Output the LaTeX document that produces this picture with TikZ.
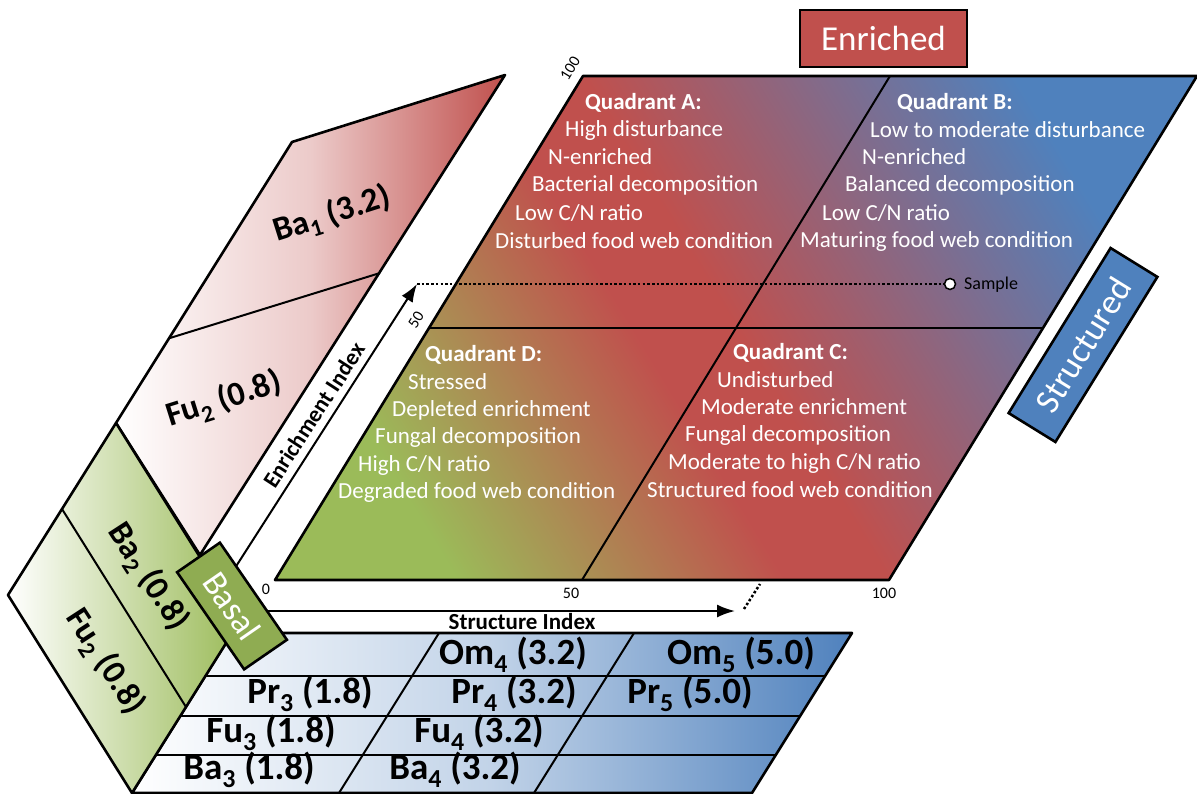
\documentclass[tikz,border=0pt]{standalone}
\usepackage{fontspec}
\setmainfont{Carlito}
\usetikzlibrary{arrows.meta}

\definecolor{enrichred}{HTML}{C0504D}
\definecolor{structblue}{HTML}{4F81BD}
\definecolor{basalgreen}{HTML}{9BBB59}

\pgfdeclareverticalshading{planeshade}{100bp}{color(0bp)=(basalgreen); color(25bp)=(basalgreen);
  color(44bp)=(enrichred); color(50bp)=(enrichred); color(75bp)=(structblue); color(100bp)=(structblue)}

\tikzset{
  panel/.style={draw=black, line width=2.6pt, line join=round},
  divider/.style={draw=black, line width=2pt},
  qhead/.style={anchor=west, text=white, inner sep=0pt, font=\fontsize{23}{27}\selectfont\bfseries},
  qline/.style={anchor=west, text=white, inner sep=0pt, font=\fontsize{23}{27}\selectfont},
  cell/.style={inner sep=0pt, font=\fontsize{37}{42}\selectfont\bfseries},
  sidecell/.style={inner sep=0pt, font=\fontsize{34}{40}\selectfont\bfseries},
  tick/.style={inner sep=0pt, font=\fontsize{16}{19}\selectfont},
  axisname/.style={inner sep=0pt, font=\fontsize{23}{27}\selectfont\bfseries},
  tagbox/.style={draw=black, line width=2.6pt, text=white, inner sep=0pt, font=\fontsize{35}{40}\selectfont},
  axisarrow/.style={line width=2pt, -{Latex[length=18pt,width=13pt]}},
  dotline/.style={line width=2.5pt, dash pattern=on 2.5pt off 2.2pt},
}

\begin{document}
\begin{tikzpicture}[x=1pt, y=-1pt]
\useasboundingbox (0,0) rectangle (1197,794);

% corners of the main plane
\coordinate (o)    at (275,580);
\coordinate (s100) at (889,580);
\coordinate (c100) at (1197,76);
\coordinate (e100) at (583,76);
\coordinate (s50b) at (582,580);
\coordinate (s50t) at (890,76);
\coordinate (e50l) at (429,328);
\coordinate (e50r) at (1043,328);

% bottom table (blue)
\coordinate (tbl) at (132,793);
\coordinate (tbr) at (752,793);
\coordinate (ttr) at (852,633);
\coordinate (ttl) at (232,633);
\shade[left color=white, right color=structblue, middle color=structblue!35!white]
  (tbl) -- (tbr) -- (ttr) -- (ttl) -- cycle;
\draw[divider] (205,676) -- (825,676);
\draw[divider] (180,716) -- (800,716);
\draw[divider] (156,755) -- (776,755);
\draw[divider] (439,633) -- (339,793);
\draw[divider] (634,633) -- (534,793);
\draw[panel] (tbl) -- (tbr) -- (ttr) -- (ttl) -- cycle;

% upper side panel (red)
\shade[left color=white, right color=enrichred, middle color=enrichred!30!white]
  (292,142) -- (505,75) -- (200,555) -- (116,423) -- cycle;
\draw[panel] (292,142) -- (505,75) -- (200,555) -- (116,423) -- cycle;
\draw[divider] (170,338) -- (380,273);

% lower side panel (green)
\shade[left color=white, right color=basalgreen, middle color=basalgreen!50!white]
  (116,423) -- (8,595) -- (132,793) -- (240,621) -- cycle;
\draw[panel] (116,423) -- (8,595) -- (132,793) -- (240,621) -- cycle;
\draw[divider] (62,509) -- (186,707);

% main plane
\begin{scope}[transform canvas={cm={6.14,0,3.08,5.04,(275pt,-580pt)}}]
  \shade[shading=planeshade, shading angle=-45] (0pt,0pt) rectangle (100pt,100pt);
\end{scope}
\draw[divider] (e50l) -- (e50r);
\draw[divider] (s50b) -- (s50t);
\draw[panel] (o) -- (s100) -- (c100) -- (e100) -- cycle;

% axes
\coordinate (si0)   at (262,611);
\coordinate (sitip) at (735,611);
\coordinate (sdot0) at (744,609);
\coordinate (sdot1) at (760,584);
\coordinate (ei0)   at (226,582);
\coordinate (eitip) at (417,284);
\draw[axisarrow] (si0) -- (sitip);
\draw[axisarrow] (ei0) -- (eitip);
\draw[dotline] (sdot0) -- (sdot1);
\node[circle, draw=black, fill=white, line width=1.5pt, minimum size=11pt, inner sep=0pt] (sample) at (950,284) {};
\draw[dotline] (eitip) -- (sample);
\node[anchor=west, inner sep=0pt, font=\fontsize{18}{21}\selectfont] (samplelbl) at (964,285) {Sample};

\node[axisname] (sindex) at (522,622) {Structure Index};
\node[axisname, rotate=57] (eindex) at (314,415) {Enrichment Index};

\node[tick] (t0)    at (266,589) {0};
\node[tick] (t50)   at (571,593) {50};
\node[tick] (t100)  at (884,593) {100};
\node[tick, rotate=58.6] (te50)  at (416,320) {50};
\node[tick, rotate=58.6] (te100) at (570,68)  {100};

% quadrant texts
\node[qhead] (qa)  at (585,103) {Quadrant A:};
\node[qline] (qa1) at (565,130) {High disturbance};
\node[qline] (qa2) at (548,157) {N-enriched};
\node[qline] (qa3) at (532,185) {Bacterial decomposition};
\node[qline] (qa4) at (515,213) {Low C/N ratio};
\node[qline] (qa5) at (495,241) {Disturbed food web condition};

\node[qhead] (qb)  at (897,103) {Quadrant B:};
\node[qline] (qb1) at (870,130) {Low to moderate disturbance};
\node[qline] (qb2) at (862,157) {N-enriched};
\node[qline] (qb3) at (845,185) {Balanced decomposition};
\node[qline] (qb4) at (822,213) {Low C/N ratio};
\node[qline] (qb5) at (800,241) {Maturing food web condition};

\node[qhead] (qd)  at (425,355) {Quadrant D:};
\node[qline] (qd1) at (408,382) {Stressed};
\node[qline] (qd2) at (392,410) {Depleted enrichment};
\node[qline] (qd3) at (375,437) {Fungal decomposition};
\node[qline] (qd4) at (358,465) {High C/N ratio};
\node[qline] (qd5) at (338,492) {Degraded food web condition};

\node[qhead] (qc)  at (733,353) {Quadrant C:};
\node[qline] (qc1) at (717,380) {Undisturbed};
\node[qline] (qc2) at (701,407) {Moderate enrichment};
\node[qline] (qc3) at (685,435) {Fungal decomposition};
\node[qline] (qc4) at (668,463) {Moderate to high C/N ratio};
\node[qline] (qc5) at (647,490) {Structured food web condition};

% side panel labels
\node[sidecell, rotate=17.5] (ba1)  at (332,215) {Ba\textsubscript{1} (3.2)};
\node[sidecell, rotate=17.5] (fu2u) at (224,400) {Fu\textsubscript{2} (0.8)};
\node[sidecell, rotate=-57]  (ba2)  at (148,577) {Ba\textsubscript{2} (0.8)};
\node[sidecell, rotate=-57]  (fu2l) at (105,662) {Fu\textsubscript{2} (0.8)};

% table labels
\node[cell] (om4) at (513,655) {Om\textsubscript{4} (3.2)};
\node[cell] (om5) at (741,655) {Om\textsubscript{5} (5.0)};
\node[cell] (pr3) at (310,694) {Pr\textsubscript{3} (1.8)};
\node[cell] (pr4) at (514,694) {Pr\textsubscript{4} (3.2)};
\node[cell] (pr5) at (690,694) {Pr\textsubscript{5} (5.0)};
\node[cell] (fu3) at (271,733) {Fu\textsubscript{3} (1.8)};
\node[cell] (fu4) at (479,733) {Fu\textsubscript{4} (3.2)};
\node[cell] (ba3) at (249,770) {Ba\textsubscript{3} (1.8)};
\node[cell] (ba4) at (455,770) {Ba\textsubscript{4} (3.2)};

% tag boxes
\node[tagbox, fill=basalgreen!92!black, rotate=-55.4, minimum width=118pt, minimum height=52pt] (basal) at (232,606) {Basal};
\node[tagbox, fill=enrichred, minimum width=167pt, minimum height=57pt] (enriched) at (883.5,38.5) {Enriched};
\node[tagbox, fill=structblue, rotate=58.3, minimum width=194pt, minimum height=55pt] (structured) at (1083,345) {Structured};

\end{tikzpicture}
\end{document}
